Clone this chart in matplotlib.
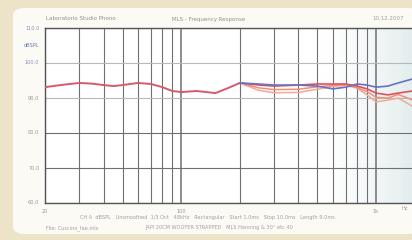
import matplotlib
matplotlib.use("Agg")
import matplotlib.pyplot as plt
from matplotlib.patches import FancyBboxPatch
import numpy as np

# ---- data ----
freq_common = [20, 24, 30, 35, 40, 45, 50, 60, 70, 80, 90, 100, 120, 135, 150, 175, 200]
db_common = [93.1, 93.7, 94.3, 94.1, 93.7, 93.4, 93.7, 94.3, 94.0, 93.1, 92.0, 91.7, 92.0, 91.7, 91.4, 92.9, 94.3]

freq_hi = [200, 250, 300, 400, 500, 600, 700, 800, 900, 1000, 1150, 1300, 1530]
db_blue = [94.3, 94.0, 93.7, 93.7, 93.4, 92.6, 93.1, 94.0, 93.7, 93.1, 93.4, 94.3, 95.4]
db_red = [94.3, 93.7, 93.4, 93.7, 94.0, 94.0, 94.0, 93.4, 92.6, 91.4, 90.9, 91.4, 92.0]
db_orange = [94.3, 92.9, 92.4, 92.5, 93.2, 93.6, 93.8, 93.0, 91.8, 90.2, 90.0, 91.0, 89.5]
db_salmon = [94.3, 92.2, 91.5, 91.6, 92.5, 93.3, 93.6, 92.8, 90.9, 88.9, 89.4, 90.0, 87.7]

y_ticks = [60, 70, 80, 90, 100, 110]
y_ticklabels = ["60.0", "70.0", "80.0", "90.0", "100.0", "110.0"]
x_ticks = [20, 100, 1000]
x_ticklabels = ["20", "100", "1k"]

W, H = 412, 240
fig = plt.figure(figsize=(W / 100, H / 100), dpi=100)
fig.patch.set_facecolor("#ece3c8")

def fx(x):
    return x / W

def fy(y):
    return 1 - y / H

# paper panel
panel = FancyBboxPatch((fx(13), fy(234)), fx(420) - fx(13), fy(8) - fy(234),
                       boxstyle="round,pad=0,rounding_size=0.03",
                       transform=fig.transFigure, facecolor="#fbfaf5",
                       edgecolor="none", zorder=-5)
fig.patches.append(panel)

ax = fig.add_axes([fx(45), fy(203), fx(412) - fx(45), fy(28) - fy(203)])
ax.set_zorder(2)
ax.set_facecolor("white")
ax.set_xscale("log")
ax.set_xlim(20, 1530)
ax.set_ylim(60, 110)

# right-side bluish fade
edges = np.geomspace(500, 1530, 30)
for i in range(len(edges) - 1):
    a = 0.5 * (i / (len(edges) - 2)) ** 1.5
    ax.axvspan(edges[i], edges[i + 1], color="#c9dcdc", alpha=a, lw=0, zorder=0.5)

# grid
vlines = list(range(20, 100, 10)) + list(range(100, 1000, 100)) + [1000]
for v in vlines:
    lw = 1.1 if v in (100, 1000) else 0.8
    ax.axvline(v, color="#707070", lw=lw, zorder=1)
for h in y_ticks:
    c = "#b8b8b8" if h in (90, 100) else "#707070"
    ax.axhline(h, color=c, lw=0.8, zorder=1)

# curves
ax.plot(freq_common, db_common, color="#d85a6a", lw=1.4, zorder=4)
ax.plot(freq_hi, db_salmon, color="#f3a898", lw=1.1, zorder=3)
ax.plot(freq_hi, db_orange, color="#ee9078", lw=1.1, zorder=3)
ax.plot(freq_hi, db_red, color="#e0505a", lw=1.2, zorder=4)
ax.plot(freq_hi, db_blue, color="#6672c4", lw=1.2, zorder=4)

ax.set_xticks([])
ax.set_yticks([])
ax.minorticks_off()
for s in ["top", "bottom", "left"]:
    ax.spines[s].set_color("#555555")
    ax.spines[s].set_linewidth(1.0)
ax.spines["right"].set_visible(False)

tc = "#9a9a9a"
fs = 3.6
for t, lab in zip(y_ticks, y_ticklabels):
    ax.text(-0.015, (t - 60) / 50, lab, transform=ax.transAxes, ha="right",
            va="center", fontsize=fs, color="#8b93b8" if t in (100, 110) else tc)
ax.text(-0.015, (110 - 5.1 - 60) / 50 + 0.003, "dBSPL", transform=ax.transAxes,
        ha="right", va="center", fontsize=fs, color="#6f79b0")
for t, lab in zip(x_ticks, x_ticklabels):
    ax.text(t, 58.2, lab, transform=ax.transData, ha="center", va="top",
            fontsize=fs, color=tc)
fig.text(fx(405), fy(209), "Hz", ha="center", va="center", fontsize=fs, color=tc)

fig.text(fx(46), fy(19), "Laboratorio Studio Phono", fontsize=4, color="#909090",
         va="center")
fig.text(fx(172), fy(19), "MLS - Frequency Response", fontsize=4, color="#909090",
         va="center")
fig.text(fx(372), fy(19), "10.12.2007", fontsize=4, color="#a0a0a0", va="center")

fig.text(fx(80), fy(217), "CH A  dBSPL   Unsmoothed  1/3 Oct   48kHz   Rectangular   Start 1.0ms   Stop 10.0ms   Length 9.0ms",
         fontsize=3.6, color="#a0a0a0", va="center")
fig.text(fx(46), fy(228), "File: Cuscino_fae.mls", fontsize=3.6, color="#a0a0a0",
         va="center")
fig.text(fx(145), fy(228), "JAPI 20CM WOOFER STRAPPED   MLS Hanning & 30\u00b0 etc 40",
         fontsize=3.6, color="#a0a0a0", va="center")

fig.savefig("out.png", dpi=100, facecolor=fig.get_facecolor())
